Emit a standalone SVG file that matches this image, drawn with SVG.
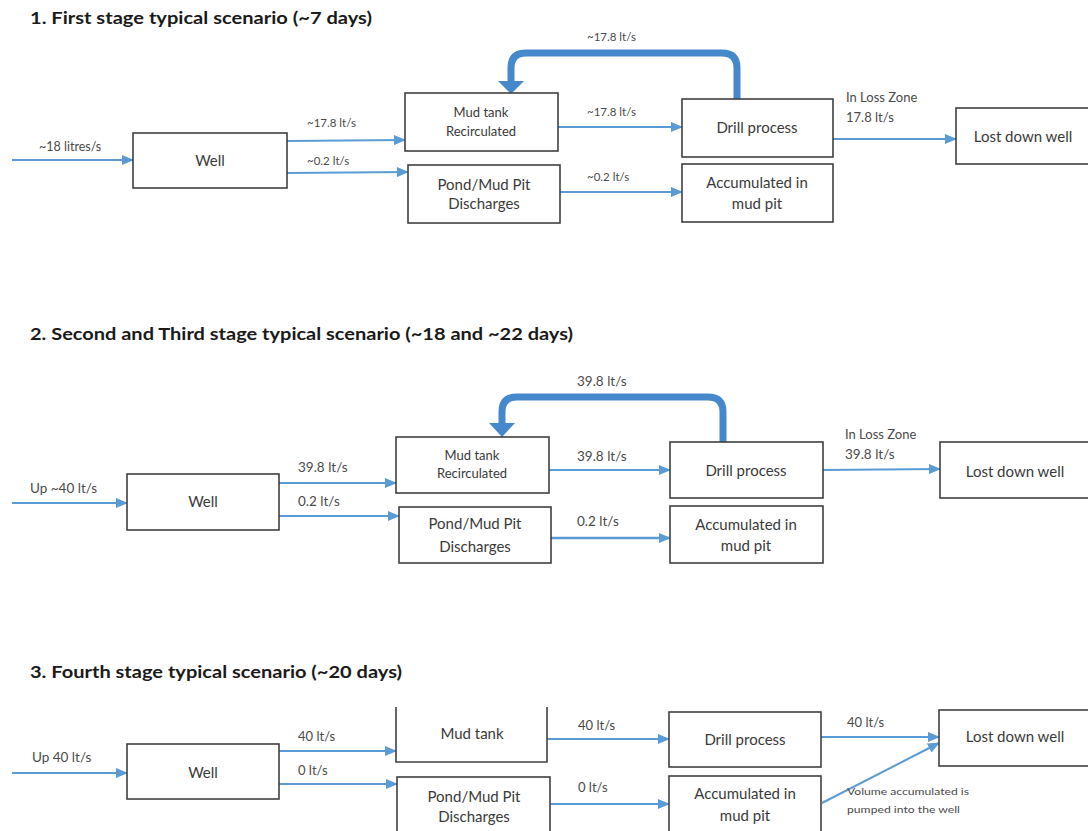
<svg xmlns="http://www.w3.org/2000/svg" width="1088" height="831" viewBox="0 0 1088 831">
<defs>
<marker id="ah" markerUnits="userSpaceOnUse" markerWidth="12" markerHeight="10" refX="11" refY="5" orient="auto">
<path d="M0,0 L12,5 L0,10 Z" fill="#5b9bd5"/>
</marker>
<style>
.title{font-family:Lato,"Liberation Sans",sans-serif;font-weight:bold;font-size:17px;fill:#1a1a1a}
.box{fill:#fff;stroke:#404040;stroke-width:1.6}
.nt{font-family:Lato,"Liberation Sans",sans-serif;font-size:15px;fill:#3a3a3a;text-anchor:middle}
.ns{font-family:Lato,"Liberation Sans",sans-serif;font-size:13px;fill:#3a3a3a;text-anchor:middle}
.lb{font-family:Lato,"Liberation Sans",sans-serif;font-size:11.5px;fill:#4a4a4a}
.lb2{font-family:Lato,"Liberation Sans",sans-serif;font-size:13px;fill:#4a4a4a}
.ar{fill:none;stroke:#5b9bd5;stroke-width:2;marker-end:url(#ah)}
.rc{fill:none;stroke:#4589cc;stroke-width:7}
.rh{fill:#4589cc}
</style>
</defs>
<rect width="1088" height="831" fill="#fff"/>

<g id="titles">
<text class="title" x="30" y="24" textLength="342" lengthAdjust="spacingAndGlyphs">1. First stage typical scenario (~7 days)</text>
<text class="title" x="30" y="340" textLength="543" lengthAdjust="spacingAndGlyphs">2. Second and Third stage typical scenario (~18 and ~22 days)</text>
<text class="title" x="30" y="678" textLength="372" lengthAdjust="spacingAndGlyphs">3. Fourth stage typical scenario (~20 days)</text>
</g>

<g id="connectors">
<!-- Section 1 -->
<path class="ar" d="M12,160 L133,160"/>
<path class="ar" d="M287,141 L405,140"/>
<path class="ar" d="M287,173 L408,172"/>
<path class="ar" d="M558,127 L682,127"/>
<path class="ar" d="M560,192 L682,192"/>
<path class="ar" d="M833,139 L956,139"/>
<path class="rc" d="M737,99 L737,68 Q737,53 722,53 L526,53 Q511,53 511,68 L511,82"/>
<polygon class="rh" points="498,81 524,81 511,94"/>
<!-- Section 2 -->
<path class="ar" d="M12,503 L127,503"/>
<path class="ar" d="M279,483 L396,483"/>
<path class="ar" d="M279,516 L399,516"/>
<path class="ar" d="M549,470 L670,470"/>
<path class="ar" d="M551,538 L670,538" style="stroke-width:2.6"/>
<path class="ar" d="M823,470 L940,469"/>
<path class="rc" d="M723,442 L723,412 Q723,397 708,397 L517,397 Q502,397 502,412 L502,424"/>
<polygon class="rh" points="489,423 515,423 502,437"/>
<!-- Section 3 -->
<path class="ar" d="M12,773 L127,773"/>
<path class="ar" d="M279,751 L396,751"/>
<path class="ar" d="M279,784 L397,784"/>
<path class="ar" d="M547,739 L669,739"/>
<path class="ar" d="M550,804 L669,804"/>
<path class="ar" d="M821,737 L939,737"/>
<path class="ar" d="M822,803 L939,743"/>
</g>

<g id="labels">
<text class="lb" x="39" y="151" style="font-size:12.5px">~18 litres/s</text>
<text class="lb" x="307" y="127">~17.8 lt/s</text>
<text class="lb" x="307" y="165">~0.2 lt/s</text>
<text class="lb" x="587" y="116">~17.8 lt/s</text>
<text class="lb" x="587" y="181">~0.2 lt/s</text>
<text class="lb" x="587" y="41">~17.8 lt/s</text>
<text class="lb2" x="846" y="102">In Loss Zone</text>
<text class="lb2" x="846" y="122">17.8 lt/s</text>

<text class="lb2" x="30" y="493" style="font-size:13.5px">Up ~40 lt/s</text>
<text class="lb2" x="298" y="472" style="font-size:13.5px">39.8 lt/s</text>
<text class="lb2" x="298" y="506" style="font-size:13.5px">0.2 lt/s</text>
<text class="lb2" x="577" y="461" style="font-size:13.5px">39.8 lt/s</text>
<text class="lb2" x="577" y="526" style="font-size:13.5px">0.2 lt/s</text>
<text class="lb2" x="577" y="386" style="font-size:13.5px">39.8 lt/s</text>
<text class="lb2" x="845" y="439">In Loss Zone</text>
<text class="lb2" x="845" y="459" style="font-size:13.5px">39.8 lt/s</text>

<text class="lb2" x="32" y="762" style="font-size:13.5px">Up 40 lt/s</text>
<text class="lb2" x="298" y="741">40 lt/s</text>
<text class="lb2" x="298" y="775">0 lt/s</text>
<text class="lb2" x="578" y="730">40 lt/s</text>
<text class="lb2" x="578" y="792">0 lt/s</text>
<text class="lb2" x="847" y="727">40 lt/s</text>
<text class="lb" x="847" y="795" style="font-size:9.5px" textLength="122" lengthAdjust="spacingAndGlyphs">Volume accumulated is</text>
<text class="lb" x="847" y="813" style="font-size:9.5px" textLength="113" lengthAdjust="spacingAndGlyphs">pumped into the well</text>
</g>

<!-- Section 1 nodes -->
<g id="s1-well"><rect class="box" x="133" y="133" width="154" height="55"/><text class="nt" x="210" y="166">Well</text></g>
<g id="s1-mudtank"><rect class="box" x="405" y="93" width="153" height="58"/><text class="ns" x="481" y="117">Mud tank</text><text class="ns" x="481" y="136">Recirculated</text></g>
<g id="s1-pond"><rect class="box" x="408" y="165" width="152" height="58"/><text class="nt" x="484" y="190">Pond/Mud Pit</text><text class="nt" x="484" y="209">Discharges</text></g>
<g id="s1-drill"><rect class="box" x="682" y="99" width="151" height="58"/><text class="nt" x="757" y="133">Drill process</text></g>
<g id="s1-accum"><rect class="box" x="682" y="164" width="151" height="58"/><text class="nt" x="757" y="188">Accumulated in</text><text class="nt" x="757" y="209">mud pit</text></g>
<g id="s1-lost"><rect class="box" x="956" y="108" width="140" height="56"/><text class="nt" x="1023" y="142">Lost down well</text></g>

<!-- Section 2 nodes -->
<g id="s2-well"><rect class="box" x="127" y="474" width="152" height="56"/><text class="nt" x="203" y="507">Well</text></g>
<g id="s2-mudtank"><rect class="box" x="396" y="437" width="153" height="56"/><text class="ns" x="472" y="460">Mud tank</text><text class="ns" x="472" y="478">Recirculated</text></g>
<g id="s2-pond"><rect class="box" x="399" y="507" width="152" height="56"/><text class="nt" x="475" y="529">Pond/Mud Pit</text><text class="nt" x="475" y="552">Discharges</text></g>
<g id="s2-drill"><rect class="box" x="670" y="442" width="153" height="56"/><text class="nt" x="746" y="476">Drill process</text></g>
<g id="s2-accum"><rect class="box" x="670" y="506" width="153" height="57"/><text class="nt" x="746" y="530">Accumulated in</text><text class="nt" x="746" y="551">mud pit</text></g>
<g id="s2-lost"><rect class="box" x="940" y="442" width="150" height="56"/><text class="nt" x="1015" y="477">Lost down well</text></g>

<!-- Section 3 nodes -->
<g id="s3-well"><rect class="box" x="127" y="744" width="152" height="55"/><text class="nt" x="203" y="778">Well</text></g>
<g id="s3-mudtank"><path class="box" style="fill:none" d="M396,707 L396,762 L547,762 L547,707"/><text class="nt" x="472" y="739">Mud tank</text></g>
<g id="s3-pond"><rect class="box" x="397" y="777" width="153" height="60"/><text class="nt" x="474" y="802">Pond/Mud Pit</text><text class="nt" x="474" y="822">Discharges</text></g>
<g id="s3-drill"><rect class="box" x="669" y="712" width="152" height="55"/><text class="nt" x="745" y="745">Drill process</text></g>
<g id="s3-accum"><rect class="box" x="669" y="776" width="152" height="60"/><text class="nt" x="745" y="799">Accumulated in</text><text class="nt" x="745" y="821">mud pit</text></g>
<g id="s3-lost"><rect class="box" x="939" y="710" width="150" height="56"/><text class="nt" x="1015" y="742">Lost down well</text></g>
</svg>
